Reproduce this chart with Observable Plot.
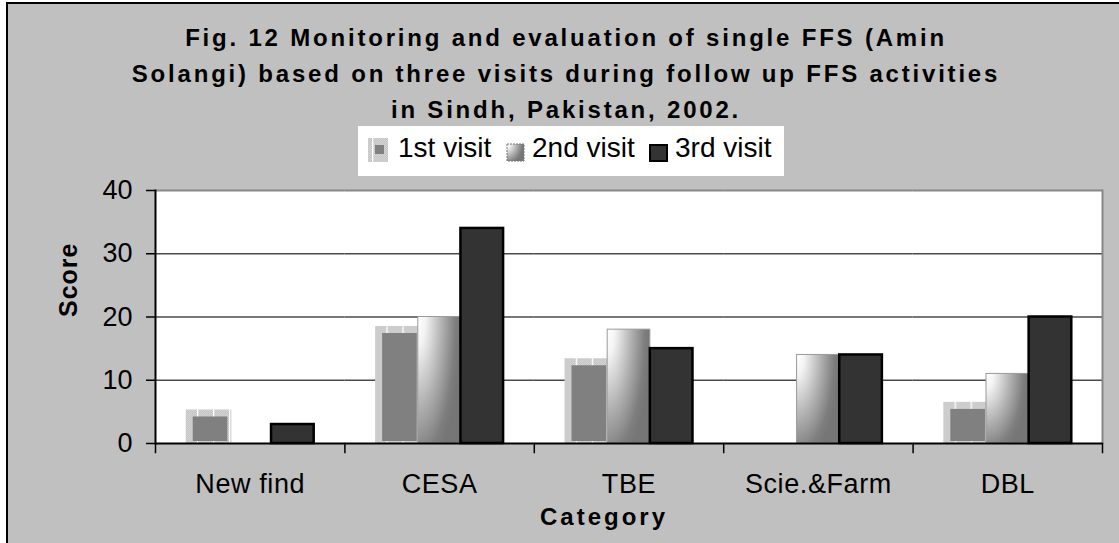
<!DOCTYPE html>
<html>
<head>
<meta charset="utf-8">
<script src="https://cdn.jsdelivr.net/npm/d3@7"></script>
<script src="https://cdn.jsdelivr.net/npm/@observablehq/plot@0.6"></script>
<style>
  html, body { margin: 0; padding: 0; background: #fff; }
  #wrap { position: relative; width: 1119px; height: 543px; overflow: hidden; font-family: "Liberation Sans", Arial, sans-serif; color: #000; }
  #panel { position: absolute; left: 6px; top: 2px; width: 1200px; height: 600px; background: #c0c0c0; border-left: 2px solid #000; border-top: 2px solid #000; }
  #chart { position: absolute; left: 0; top: 0; }
  #title { position: absolute; left: 66px; width: 1000px; top: 20px; text-align: center; font-weight: bold; font-size: 24px; letter-spacing: 2.8px; line-height: 36px; }
  #legend { position: absolute; left: 358px; top: 126px; width: 426px; height: 50px; background: #fff; }
  #legend svg, #legend span { position: absolute; }
  #legend span { font-size: 28px; line-height: 32px; top: 6px; white-space: nowrap; }
</style>
</head>
<body>
<div id="wrap">
  <div id="panel"></div>
  <div id="chart"></div>
  <div id="title"></div>
  <div id="legend"></div>
</div>
<script>
// ---- data ----
const titleLines = [
  "Fig. 12 Monitoring and evaluation of single FFS (Amin",
  "Solangi) based on three visits during follow up FFS activities",
  "in Sindh, Pakistan, 2002."
];
const categories = ["New find", "CESA", "TBE", "Scie.&Farm", "DBL"];
const seriesNames = ["1st visit", "2nd visit", "3rd visit"];
const visit1 = [5.3, 18.5, 13.4, 0, 6.5];
const visit2 = [0, 20, 18, 14, 11];
const visit3 = [3, 34, 15, 14, 20];
const yTicks = [0, 10, 20, 30, 40];
const yLabel = "Score";
const xLabel = "Category";

const seriesValues = [visit1, visit2, visit3];
const rows = [];
categories.forEach((c, i) => {
  seriesValues.forEach((arr, k) => rows.push({cat: c, series: seriesNames[k], value: arr[i]}));
});
const bySeries = k => rows.filter(d => d.series === seriesNames[k] && d.value > 0);

// ---- layout ----
const W = 1119, H = 543, mL = 155, mR = 17, mT = 190, mB = 100;
const innerH = H - mT - mB;

const plot = Plot.plot({
  width: W, height: H,
  marginLeft: mL, marginRight: mR, marginTop: mT, marginBottom: mB,
  style: {fontFamily: '"Liberation Sans", Arial, sans-serif', fontSize: "27px", color: "#000", background: "transparent", overflow: "visible"},
  fx: {domain: categories, padding: 0, round: false, label: null},
  x: {domain: seriesNames, paddingInner: 0, paddingOuter: 0.72, round: false, axis: null},
  y: {domain: [yTicks[0], yTicks[yTicks.length - 1]], label: null},
  marks: [
    Plot.frame({facet: "super", fill: "white", stroke: null}),
    Plot.ruleY(yTicks.slice(1, -1), {stroke: "#4a4a4a", strokeWidth: 1.4}),
    Plot.barY(bySeries(0), {fx: "cat", x: "series", y: "value", fill: "url(#ffs-p1)", insetRight: -3}),
    Plot.barY(bySeries(0), {fx: "cat", x: "series", y: "value", fill: "#808080", insetTop: 7, insetLeft: 7, insetRight: 1, insetBottom: 2}),
    Plot.barY(bySeries(1), {fx: "cat", x: "series", y: "value", fill: "url(#ffs-g2)", stroke: "#9a9a9a", strokeWidth: 1}),
    Plot.barY(bySeries(2), {fx: "cat", x: "series", y: "value", fill: "#333333", stroke: "#000", strokeWidth: 2.5}),
    Plot.ruleY([yTicks[yTicks.length - 1]], {stroke: "#878787", strokeWidth: 2}),
    Plot.frame({facet: "super", anchor: "right", stroke: "#878787", strokeWidth: 2}),
    Plot.frame({facet: "super", anchor: "left", stroke: "#000", strokeWidth: 2}),
    Plot.ruleY([0], {stroke: "#000", strokeWidth: 2}),
    Plot.frame({anchor: "left", insetTop: innerH, insetBottom: -9, stroke: "#000", strokeWidth: 1.5}),
    Plot.frame({facet: "super", anchor: "right", insetTop: innerH, insetBottom: -9, stroke: "#000", strokeWidth: 1.5}),
    Plot.axisY({ticks: yTicks, tickSize: 9, tickPadding: 14, fontSize: 27, strokeWidth: 1.5, label: null}),
    Plot.axisFx({anchor: "bottom", tickSize: 0, tickPadding: 30, fontSize: 27, label: null}),
    Plot.text([{cat: categories[0], t: yLabel}], {fx: "cat", text: "t", frameAnchor: "left", rotate: -90, dx: -87, fontWeight: "bold", fontSize: 25}),
    Plot.text([{cat: categories[2], t: xLabel}], {fx: "cat", text: "t", frameAnchor: "bottom", dy: 81, dx: -25, fontWeight: "bold", fontSize: 24})
  ]
});

// ---- fills (pattern + gradient) ----
const defs = d3.select(plot).insert("defs", ":first-child");
const pat = defs.append("pattern").attr("id", "ffs-p1").attr("patternUnits", "userSpaceOnUse").attr("width", 16).attr("height", 2);
pat.append("rect").attr("width", 16).attr("height", 2).attr("fill", "#c5c5c5");
for (let x = 0; x < 16; x += 2) {
  pat.append("rect").attr("x", x).attr("y", 0).attr("width", 1).attr("height", 1).attr("fill", "#d4d4d4");
  pat.append("rect").attr("x", x + 1).attr("y", 1).attr("width", 1).attr("height", 1).attr("fill", "#d4d4d4");
}
pat.append("rect").attr("x", 5).attr("width", 1.3).attr("height", 2).attr("fill", "#ffffff");
const grad = defs.append("radialGradient").attr("id", "ffs-g2").attr("cx", 0).attr("cy", 0).attr("r", 1).attr("fx", 0).attr("fy", 0)
  .attr("gradientTransform", "scale(1,1.25)");
[[0, "#ffffff"], [0.18, "#f4f4f4"], [0.55, "#b4b4b4"], [0.88, "#7e7e7e"], [1, "#767676"]].forEach(([o, c]) =>
  grad.append("stop").attr("offset", o).attr("stop-color", c));

// text spacing tweaks
d3.select(plot).selectAll("text").each(function () {
  const t = this.textContent;
  if (t === xLabel) d3.select(this).style("letter-spacing", "3px");
  else if (t === yLabel) d3.select(this).style("letter-spacing", "1px");
  else if (categories.includes(t)) d3.select(this).style("letter-spacing", "0.6px");
});

document.getElementById("chart").appendChild(plot);

// ---- title ----
document.getElementById("title").innerHTML = titleLines.join("<br>");

// ---- legend ----
const legend = d3.select("#legend");
const swatches = [
  {left: 10, top: 12, w: 20, h: 24, text: 40},
  {left: 149, top: 18, w: 18, h: 18, text: 174},
  {left: 291, top: 18, w: 19, h: 18, text: 317}
];
seriesNames.forEach((name, k) => {
  const s = swatches[k];
  const sv = legend.append("svg").attr("width", s.w + 2).attr("height", s.h + 2)
    .style("left", s.left - 1 + "px").style("top", s.top - 1 + "px");
  if (k === 0) {
    sv.append("rect").attr("x", 1).attr("y", 1).attr("width", s.w).attr("height", s.h).attr("fill", "url(#ffs-p1)");
    sv.append("rect").attr("x", 8).attr("y", 8).attr("width", 9).attr("height", 9).attr("fill", "#808080");
  } else if (k === 1) {
    sv.append("rect").attr("x", 1).attr("y", 1).attr("width", s.w - 1).attr("height", s.h - 1).attr("fill", "url(#ffs-g2)")
      .attr("stroke", "#777").attr("stroke-dasharray", "2 1");
  } else {
    sv.append("rect").attr("x", 2).attr("y", 2).attr("width", s.w - 2).attr("height", s.h - 2).attr("fill", "#333")
      .attr("stroke", "#000").attr("stroke-width", 2);
  }
  legend.append("span").style("left", s.text + "px").text(name);
});
</script>
</body>
</html>
